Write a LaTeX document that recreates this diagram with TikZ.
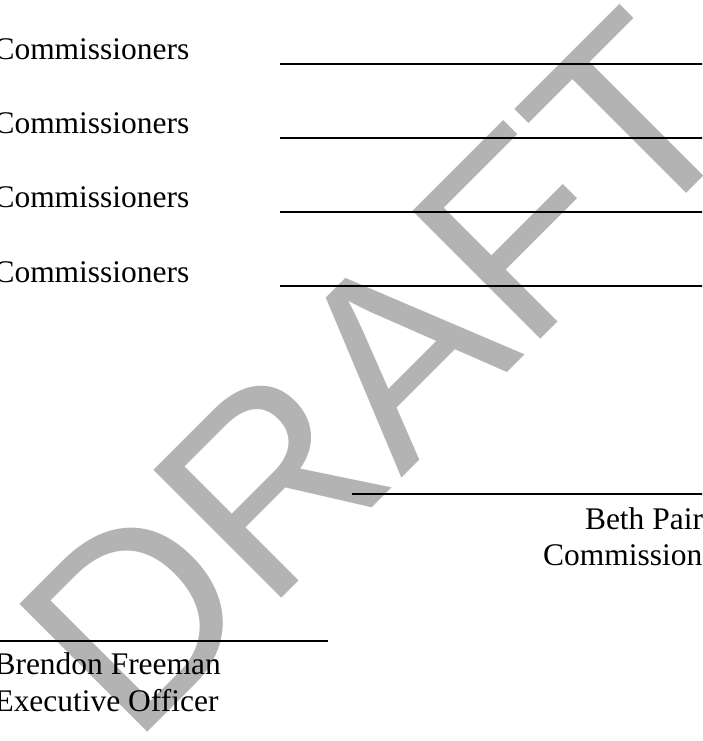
\documentclass[tikz,border=0pt]{standalone}
\usepackage{fontspec}
\setmainfont{Liberation Serif}
\newfontfamily\wmfont{Liberation Sans}
\definecolor{wmgray}{RGB}{179,179,179}
\tikzset{
  lbl/.style={anchor=base west, inner sep=0pt, font=\fontsize{11.8}{13.8}\selectfont, text=black},
  sigline/.style={draw=black, line width=0.45pt},
  wmark/.style={anchor=base west, inner sep=0pt, rotate=45, text=wmgray, font=\wmfont\fontsize{98.6}{100}\selectfont}
}
\begin{document}
\begin{tikzpicture}[x=0.375pt, y=-0.375pt]
\useasboundingbox (0,0) rectangle (702,741);
\fill[white] (0,0) rectangle (702,741);
\clip (0,0) rectangle (702,741);
% watermark (behind everything)
\node[wmark] (wm) at (132.3,747.7) {DRAFT};
% commissioner rows
\node[lbl] (c1) at (-7,59.5) {Commissioners};
\node[lbl] (c2) at (-7,133.7) {Commissioners};
\node[lbl] (c3) at (-7,207.9) {Commissioners};
\node[lbl] (c4) at (-7,282) {Commissioners};
\coordinate (l1a) at (280,64);  \coordinate (l1b) at (710,64);
\coordinate (l2a) at (280,138); \coordinate (l2b) at (710,138);
\coordinate (l3a) at (280,212); \coordinate (l3b) at (710,212);
\coordinate (l4a) at (280,286); \coordinate (l4b) at (710,286);
\draw[sigline] (l1a) -- (l1b);
\draw[sigline] (l2a) -- (l2b);
\draw[sigline] (l3a) -- (l3b);
\draw[sigline] (l4a) -- (l4b);
% right signature
\coordinate (bpa) at (352,494); \coordinate (bpb) at (710,494);
\draw[sigline] (bpa) -- (bpb);
\node[lbl] (bp1) at (584.5,529) {Beth Pair};
\node[lbl] (bp2) at (542.6,565.5) {Commission};
% left signature
\coordinate (bfa) at (-10,641); \coordinate (bfb) at (328,641);
\draw[sigline] (bfa) -- (bfb);
\node[lbl] (bf1) at (-6,674.5) {Brendon Freeman};
\node[lbl] (bf2) at (-6,711) {Executive Officer};
\end{tikzpicture}
\end{document}
